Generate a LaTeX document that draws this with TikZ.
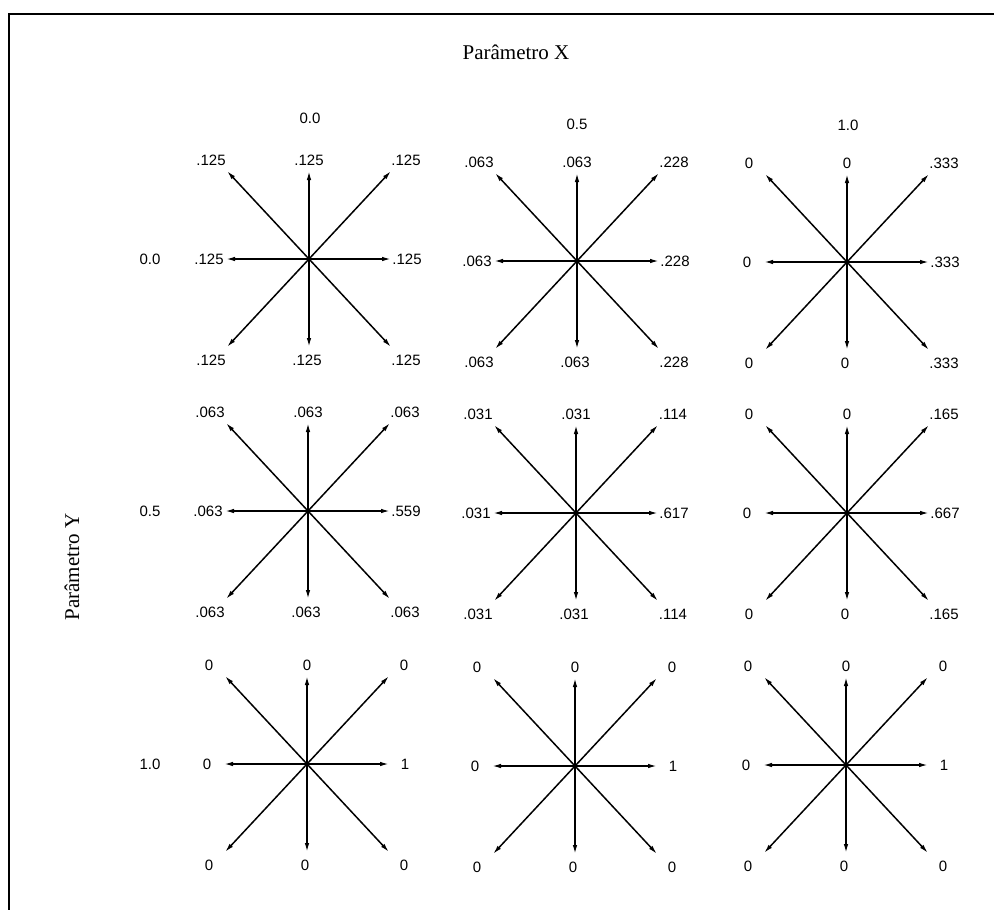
\documentclass[tikz,border=0pt]{standalone}
\usepackage{fontspec}
\setmainfont{Liberation Serif}
\newfontfamily\numfont{Liberation Sans}
\usetikzlibrary{arrows.meta}
\begin{document}
\begin{tikzpicture}[x=1pt,y=-1pt,
  ray/.style={line width=1.5pt,-{Latex[length=9pt,width=4.5pt]}},
  val/.style={font=\numfont\fontsize{15}{15}\selectfont, inner sep=0pt},
  title/.style={font=\fontsize{21}{21}\selectfont, inner sep=0pt},
  hub/.style={circle,fill=black,inner sep=0pt,minimum size=5pt},
  frame/.style={line width=2pt}]
\useasboundingbox (0,0) rectangle (994,910);
\coordinate (fb) at (9,910);
\coordinate (fc) at (9,14);
\coordinate (fr) at (994,14);
\draw[frame] (fb) -- (fc) -- (fr);

\node[title] (px) at (516,52) {Parâmetro X};
\node[title,rotate=90] (py) at (72,567) {Parâmetro Y};

\node[val] (cx1) at (310,118) {0.0};
\node[val] (cx2) at (577,124) {0.5};
\node[val] (cx3) at (848,125) {1.0};
\node[val] (ry1) at (150,259) {0.0};
\node[val] (ry2) at (150,511) {0.5};
\node[val] (ry3) at (150,764) {1.0};

\foreach \n/\cx/\cy/\vul/\vup/\vur/\vlf/\vrt/\vdl/\vdn/\vdr in {
  s11/309/259/.125/.125/.125/.125/.125/.125/.125/.125,
  s12/577/261/.063/.063/.228/.063/.228/.063/.063/.228,
  s13/847/262/0/0/.333/0/.333/0/0/.333,
  s21/308/511/.063/.063/.063/.063/.559/.063/.063/.063,
  s22/576/513/.031/.031/.114/.031/.617/.031/.031/.114,
  s23/847/513/0/0/.165/0/.667/0/0/.165,
  s31/307/764/0/0/0/0/1/0/0/0,
  s32/575/766/0/0/0/0/1/0/0/0,
  s33/846/765/0/0/0/0/1/0/0/0}{
  \coordinate (\n) at (\cx,\cy);
  \coordinate (\n-ul) at (\cx-82,\cy-88);
  \coordinate (\n-up) at (\cx,\cy-88);
  \coordinate (\n-ur) at (\cx+82,\cy-88);
  \coordinate (\n-lf) at (\cx-83,\cy);
  \coordinate (\n-rt) at (\cx+82,\cy);
  \coordinate (\n-dl) at (\cx-82,\cy+88);
  \coordinate (\n-dn) at (\cx,\cy+88);
  \coordinate (\n-dr) at (\cx+82,\cy+88);
  \foreach \t in {ul,up,ur,lf,rt,dl,dn,dr}{
    \draw[ray] (\n) -- (\n-\t);
  }
  \node[hub] (\n-o) at (\n) {};
  \node[val] (\n-tul) at (\cx-98,\cy-99) {\vul};
  \node[val] (\n-tup) at (\cx,\cy-99) {\vup};
  \node[val] (\n-tur) at (\cx+97,\cy-99) {\vur};
  \node[val] (\n-tlf) at (\cx-100,\cy) {\vlf};
  \node[val] (\n-trt) at (\cx+98,\cy) {\vrt};
  \node[val] (\n-tdl) at (\cx-98,\cy+101) {\vdl};
  \node[val] (\n-tdn) at (\cx-2,\cy+101) {\vdn};
  \node[val] (\n-tdr) at (\cx+97,\cy+101) {\vdr};
}
\end{tikzpicture}
\end{document}
